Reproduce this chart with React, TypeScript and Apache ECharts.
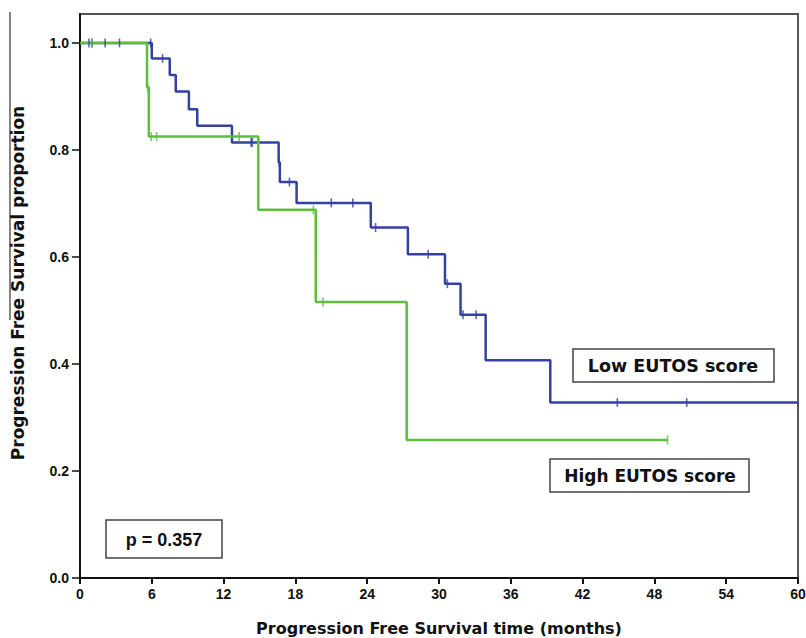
import React, { useEffect, useRef } from "react";
import * as echarts from "echarts";

// Low EUTOS score: Kaplan-Meier step points [month, proportion]
const lowTimes = [0, 6.0, 7.5, 8.0, 9.1, 9.8, 12.7, 16.6, 16.7, 18.1, 24.3, 27.4, 30.5, 31.8, 33.9, 39.3, 60];
const lowSurv = [1.0, 0.971, 0.94, 0.909, 0.876, 0.845, 0.814, 0.777, 0.74, 0.701, 0.655, 0.605, 0.55, 0.492, 0.407, 0.328, 0.328];
const lowCensorT = [0.75, 1.0, 2.1, 3.3, 5.9, 6.9, 14.3, 14.4, 16.65, 17.5, 21.0, 22.8, 24.7, 29.1, 30.7, 32.0, 33.1, 44.9, 50.7];
const lowCensorS = [1.0, 1.0, 1.0, 1.0, 1.0, 0.971, 0.814, 0.814, 0.777, 0.74, 0.701, 0.701, 0.655, 0.605, 0.55, 0.492, 0.492, 0.328, 0.328];

// High EUTOS score
const highTimes = [0, 5.6, 5.75, 14.9, 19.7, 27.3, 49.1];
const highSurv = [1.0, 0.917, 0.825, 0.688, 0.516, 0.258, 0.258];
const highCensorT = [1.0, 5.65, 5.95, 6.4, 13.3, 19.5, 20.3, 49.1];
const highCensorS = [1.0, 0.917, 0.825, 0.825, 0.825, 0.688, 0.516, 0.258];

const xTicks = { min: 0, max: 60, interval: 6 };
const yTickValues = [0, 0.2, 0.4, 0.6, 0.8, 1.0];
const yAxisMax = 1.054;

const seriesNames = ["Low EUTOS score", "High EUTOS score"];
const pText = "p = 0.357";
const xTitle = "Progression Free Survival time (months)";
const yTitle = "Progression Free Survival proportion";

const BLUE = "#3341a3";
const GREEN = "#5cbf3c";
const NARROW = '"Liberation Sans Narrow", "Arial Narrow", "Liberation Sans", Arial, sans-serif';
const TITLE = '"DejaVu Sans", Verdana, sans-serif';

const zip = (a: number[], b: number[]) => a.map((v, i) => [v, b[i]]);

export default function App() {
  const ref = useRef<HTMLDivElement>(null);
  useEffect(() => {
    if (!ref.current) return;
    const chart = echarts.init(ref.current, null, { renderer: "svg" });
    const tick = { symbol: "rect", symbolSize: [1.6, 9] as any };
    chart.setOption({
      animation: false,
      backgroundColor: "#ffffff",
      grid: {
        left: 80,
        right: 8,
        top: 14,
        bottom: 60,
        containLabel: false,
        outerBoundsMode: "none",
        show: true,
        borderColor: "#555",
        borderWidth: 2,
        backgroundColor: "transparent",
      },
      xAxis: {
        type: "value",
        min: xTicks.min,
        max: xTicks.max,
        interval: xTicks.interval,
        name: xTitle,
        nameLocation: "middle",
        nameGap: 42,
        nameTextStyle: { fontFamily: TITLE, fontWeight: "bold", fontSize: 16, color: "#111" },
        axisLine: { lineStyle: { color: "#111", width: 2 } },
        axisTick: { show: true, length: 6, lineStyle: { color: "#111", width: 2 } },
        axisLabel: { fontFamily: NARROW, fontWeight: "bold", fontSize: 14, color: "#111", margin: 9 },
        splitLine: { show: false },
      },
      yAxis: {
        type: "value",
        min: 0,
        max: yAxisMax,
        axisLine: { show: true, lineStyle: { color: "#111", width: 2 } },
        axisTick: { show: true, length: 8, customValues: yTickValues, lineStyle: { color: "#111", width: 1.5 } },
        axisLabel: {
          customValues: yTickValues,
          fontFamily: NARROW,
          fontWeight: "bold",
          fontSize: 14,
          color: "#111",
          margin: 11,
          formatter: (v: number) => v.toFixed(1),
        },
        splitLine: { show: false },
      },
      series: [
        {
          name: seriesNames[0],
          type: "line",
          step: "end",
          data: zip(lowTimes, lowSurv),
          showSymbol: false,
          lineStyle: { color: BLUE, width: 2.5 },
          z: 3,
        },
        {
          name: seriesNames[1],
          type: "line",
          step: "end",
          data: zip(highTimes, highSurv),
          showSymbol: false,
          lineStyle: { color: GREEN, width: 2.5 },
          z: 4,
        },
        {
          name: seriesNames[0] + " censored",
          type: "scatter",
          data: zip(lowCensorT, lowCensorS),
          ...tick,
          itemStyle: { color: BLUE },
          z: 5,
        },
        {
          name: seriesNames[1] + " censored",
          type: "scatter",
          data: zip(highCensorT, highCensorS),
          ...tick,
          itemStyle: { color: GREEN },
          z: 5,
        },
      ],
      graphic: [
        {
          type: "line",
          shape: { x1: 10, y1: 12, x2: 10, y2: 320 },
          style: { stroke: "#333", lineWidth: 1.2 },
        },
        {
          type: "text",
          x: 18,
          y: 283,
          rotation: Math.PI / 2,
          style: { text: yTitle, font: `bold 17px ${TITLE}`, fill: "#111", align: "center", verticalAlign: "middle" },
          z: 11,
        },
        {
          type: "rect",
          shape: { x: 573, y: 349, width: 201, height: 33 },
          style: { fill: "#fff", stroke: "#444", lineWidth: 1.5 },
          z: 10,
        },
        {
          type: "text",
          x: 673,
          y: 366,
          style: { text: seriesNames[0], font: `bold 17.5px ${TITLE}`, fill: "#111", align: "center", verticalAlign: "middle" },
          z: 11,
        },
        {
          type: "rect",
          shape: { x: 550, y: 459, width: 199, height: 33 },
          style: { fill: "#fff", stroke: "#444", lineWidth: 1.5 },
          z: 10,
        },
        {
          type: "text",
          x: 650,
          y: 476,
          style: { text: seriesNames[1], font: `bold 17px ${TITLE}`, fill: "#111", align: "center", verticalAlign: "middle" },
          z: 11,
        },
        {
          type: "rect",
          shape: { x: 106, y: 520, width: 116, height: 38 },
          style: { fill: "#fff", stroke: "#444", lineWidth: 1.5 },
          z: 10,
        },
        {
          type: "text",
          x: 164,
          y: 540,
          style: { text: pText, font: `bold 18px ${NARROW}`, fill: "#111", align: "center", verticalAlign: "middle" },
          z: 11,
        },
      ],
    });
    return () => chart.dispose();
  }, []);
  return (
    <div
      ref={ref}
      style={{ position: "fixed", left: 0, top: 0, width: 806, height: 638, background: "#fff" }}
    />
  );
}
